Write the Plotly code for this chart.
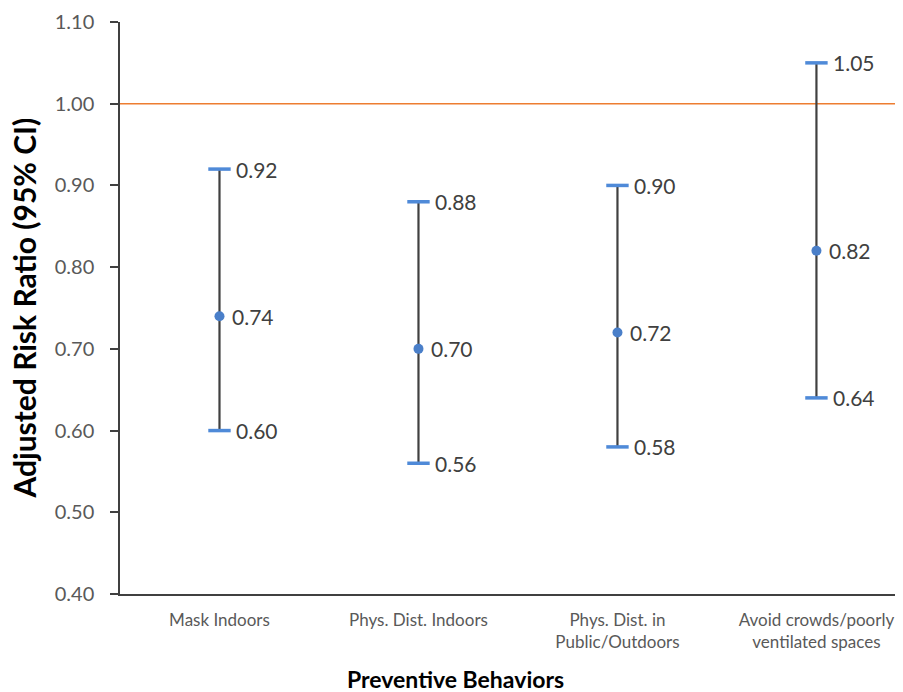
import plotly.graph_objects as go

categories = ["Mask Indoors", "Phys. Dist. Indoors", "Phys. Dist. in<br>Public/Outdoors",
              "Avoid crowds/poorly<br>ventilated spaces"]
estimate = [0.74, 0.70, 0.72, 0.82]
lower = [0.60, 0.56, 0.58, 0.64]
upper = [0.92, 0.88, 0.90, 1.05]
reference_value = 1.00
y_ticks = [0.40, 0.50, 0.60, 0.70, 0.80, 0.90, 1.00, 1.10]

xpos = list(range(len(categories)))
FONT = "Lato"
BLUE = "#4a7fc9"
CAP_BLUE = "#4f8ad8"
DARK = "#404040"

fig = go.Figure()

# whiskers
wx, wy = [], []
for i, lo, hi in zip(xpos, lower, upper):
    wx += [i, i, None]
    wy += [lo, hi, None]
fig.add_trace(go.Scatter(x=wx, y=wy, mode="lines",
                         line=dict(color=DARK, width=2.2), hoverinfo="skip", showlegend=False))

# reference line
fig.add_hline(y=reference_value, line=dict(color="#ed7d31", width=1.6), layer="below")

# caps
for vals in (upper, lower):
    fig.add_trace(go.Scatter(
        x=xpos, y=vals, mode="markers",
        marker=dict(symbol="line-ew", size=16, line=dict(color=CAP_BLUE, width=3.5)),
        showlegend=False))
    for i, v in zip(xpos, vals):
        fig.add_annotation(x=i, y=v, text=f"{v:.2f}", showarrow=False, xanchor="left",
                           yanchor="middle", xshift=15,
                           font=dict(family=FONT, size=21, color=DARK))

# point estimates
fig.add_trace(go.Scatter(
    x=xpos, y=estimate, mode="markers",
    marker=dict(color=BLUE, size=10),
    showlegend=False))
for i, v in zip(xpos, estimate):
    fig.add_annotation(x=i, y=v, text=f"{v:.2f}", showarrow=False, xanchor="left",
                       yanchor="middle", xshift=11,
                       font=dict(family=FONT, size=21, color=DARK))

fig.add_annotation(text="<b>Preventive Behaviors</b>", xref="paper", yref="paper",
                   x=0.428, y=-0.1486, xanchor="center", yanchor="middle", showarrow=False,
                   font=dict(family=FONT, size=23, color="#000000"))
fig.add_annotation(text="<b>Adjusted Risk Ratio (95% CI)</b>", xref="paper", yref="paper",
                   x=-0.122, y=0.5, xanchor="center", yanchor="middle", textangle=-90,
                   showarrow=False, font=dict(family=FONT, size=30, color="#000000"))

# page body has an 8px margin, so the figure is sized/offset to fill the 903x692 window
fig.update_layout(
    width=895, height=684,
    margin=dict(l=112, r=0, t=14, b=98),
    plot_bgcolor="white", paper_bgcolor="white",
    xaxis=dict(range=[-0.5, 3.435], tickvals=xpos, ticktext=categories, automargin=False,
               showgrid=False, zeroline=False, showline=True, linecolor=DARK, linewidth=1.5,
               ticks="", ticklabelstandoff=10,
               tickfont=dict(family=FONT, size=17, color="#595959")),
    yaxis=dict(range=[0.40, 1.10], tickvals=y_ticks, tickformat=".2f", automargin=False,
               showgrid=False, zeroline=False, showline=True, linecolor=DARK, linewidth=1.5,
               ticks="outside", ticklen=8, tickcolor=DARK, tickwidth=1.5, ticklabelstandoff=12,
               tickfont=dict(family=FONT, size=20, color="#595959")),
)

fig.write_html("out.html")
